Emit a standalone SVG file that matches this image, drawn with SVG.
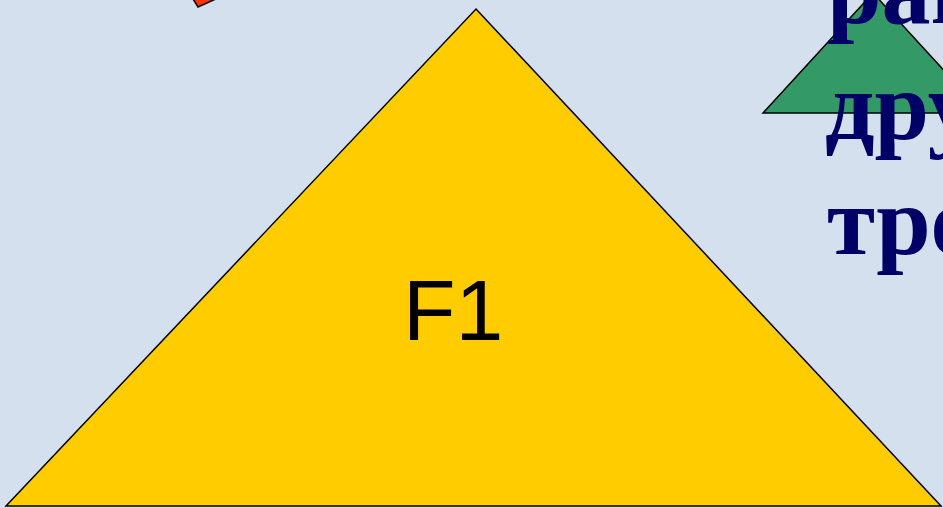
<svg xmlns="http://www.w3.org/2000/svg" width="943" height="508" viewBox="0 0 943 508">
<style>
.shape{stroke:#000;stroke-width:1.5;stroke-linejoin:miter}
.title{font-family:"Liberation Serif","Times New Roman",serif;font-weight:bold;font-size:98px;fill:#000066}
.lbl{font-family:"Liberation Sans",Arial,sans-serif;font-size:86px;fill:#000}
</style>
<rect x="0" y="0" width="943" height="508" fill="#D5E0EE"/>
<g id="red-shape">
<polygon class="shape" points="190,-6 198,7 218,-2 212,-12" fill="#FF3300"/>
</g>
<g id="green-triangle">
<polygon class="shape" points="763,113 873,-7 983,113" fill="#339966"/>
</g>
<g id="title">
<text class="title" x="827" y="23">равные</text>
<text class="title" x="825" y="139">друг</text>
<text class="title" x="827" y="254">треугольники</text>
</g>
<g id="F1">
<polygon class="shape" points="476,9 941,506 6,506" fill="#FFCC00"/>
<text class="lbl" x="403" y="340">F1</text>
</g>
<g id="connectors"/>
</svg>
